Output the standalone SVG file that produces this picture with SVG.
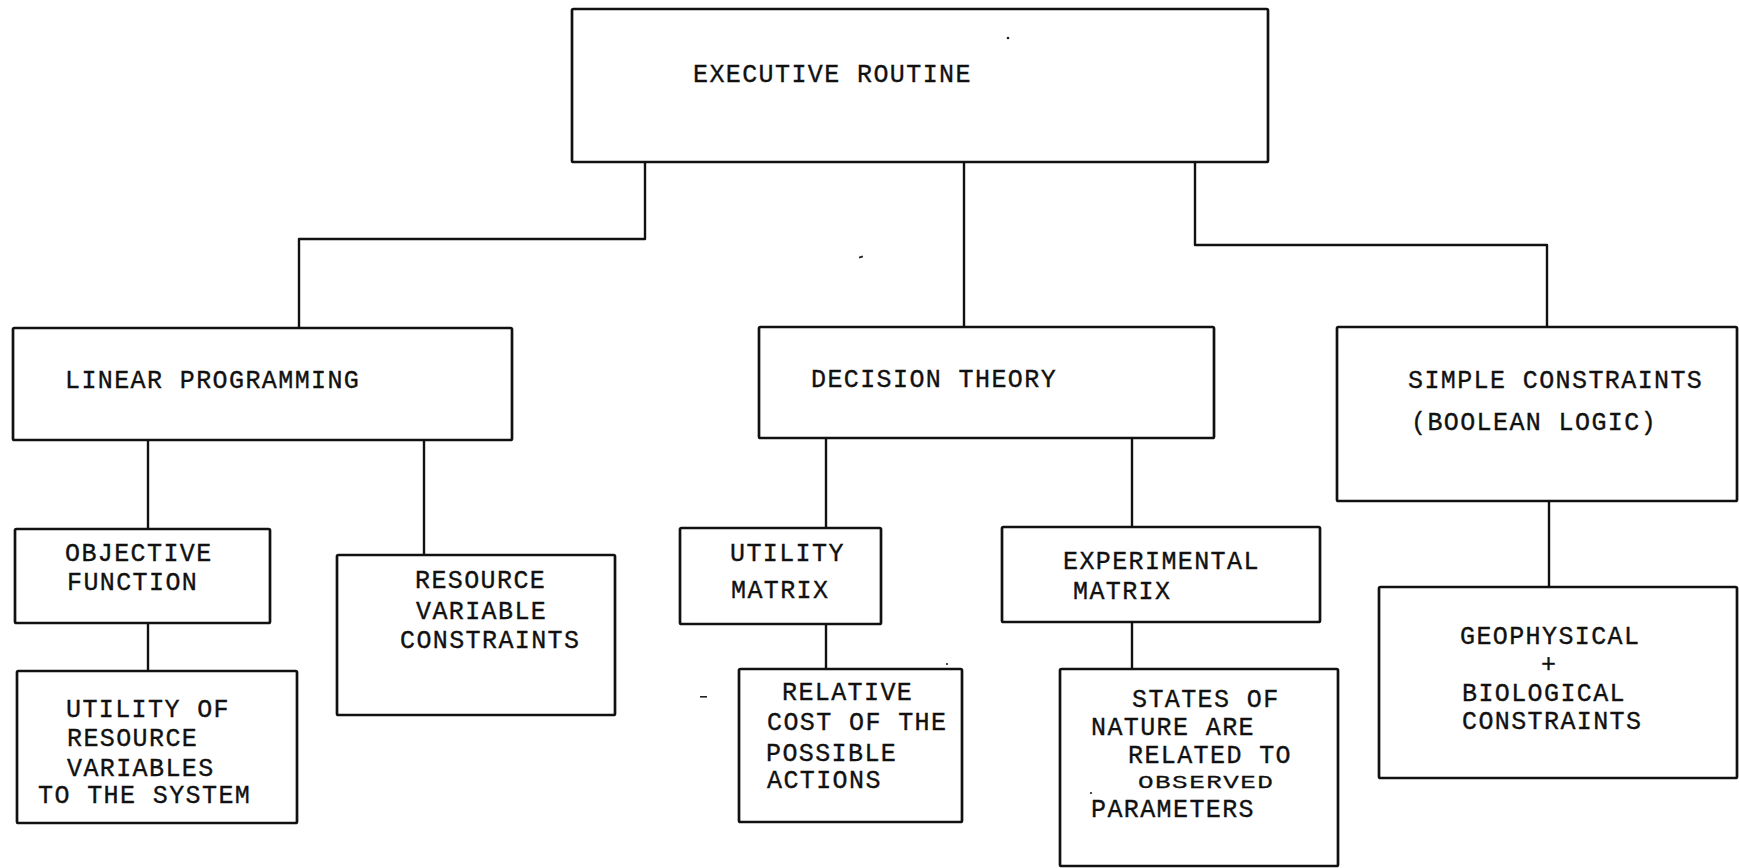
<svg xmlns="http://www.w3.org/2000/svg" width="1739" height="868" viewBox="0 0 1739 868">
  <style>
    .box { fill: #ffffff; stroke: #111111; stroke-width: 2.7; }
    .wire { fill: none; stroke: #111111; stroke-width: 2.4; stroke-linejoin: round; }
    .lbl { font-family: "Liberation Mono", "DejaVu Sans Mono", monospace; font-size: 25px; letter-spacing: 1.4px; fill: #111111; stroke: #111111; stroke-width: 0.35px; }
    .speck { fill: #222222; }
  </style>
  <rect width="1739" height="868" fill="#ffffff"/>

  <!-- tree connectors -->
  <g id="connectors">
    <path class="wire" d="M645,162 V239 H299 V328"/>
    <path class="wire" d="M964,162 V327"/>
    <path class="wire" d="M1195,162 V245 H1547 V327"/>
    <path class="wire" d="M148,440 V529"/>
    <path class="wire" d="M424,440 V555"/>
    <path class="wire" d="M148,623 V671"/>
    <path class="wire" d="M826,438 V528"/>
    <path class="wire" d="M1132,438 V527"/>
    <path class="wire" d="M826,624 V669"/>
    <path class="wire" d="M1132,622 V669"/>
    <path class="wire" d="M1549,501 V587"/>
  </g>

  <g id="executive-routine">
    <rect class="box" x="572" y="9" width="696" height="153" rx="1.5"/>
    <text class="lbl" x="693" y="82">EXECUTIVE ROUTINE</text>
  </g>

  <g id="linear-programming">
    <rect class="box" x="13" y="328" width="499" height="112" rx="1.5"/>
    <text class="lbl" x="65" y="388">LINEAR PROGRAMMING</text>
  </g>

  <g id="decision-theory">
    <rect class="box" x="759" y="327" width="455" height="111" rx="1.5"/>
    <text class="lbl" x="811" y="387">DECISION THEORY</text>
  </g>

  <g id="simple-constraints">
    <rect class="box" x="1337" y="327" width="400" height="174" rx="1.5"/>
    <text class="lbl" x="1408" y="388">SIMPLE CONSTRAINTS</text>
    <text class="lbl" x="1411" y="430">(BOOLEAN LOGIC)</text>
  </g>

  <g id="objective-function">
    <rect class="box" x="15" y="529" width="255" height="94" rx="1.5"/>
    <text class="lbl" x="65" y="561">OBJECTIVE</text>
    <text class="lbl" x="67" y="590">FUNCTION</text>
  </g>

  <g id="utility-of-resources">
    <rect class="box" x="17" y="671" width="280" height="152" rx="1.5"/>
    <text class="lbl" x="66" y="717">UTILITY OF</text>
    <text class="lbl" x="67" y="746">RESOURCE</text>
    <text class="lbl" x="67" y="776">VARIABLES</text>
    <text class="lbl" x="38" y="803">TO THE SYSTEM</text>
  </g>

  <g id="resource-variable-constraints">
    <rect class="box" x="337" y="555" width="278" height="160" rx="1.5"/>
    <text class="lbl" x="415" y="588">RESOURCE</text>
    <text class="lbl" x="416" y="619">VARIABLE</text>
    <text class="lbl" x="400" y="648">CONSTRAINTS</text>
  </g>

  <g id="utility-matrix">
    <rect class="box" x="680" y="528" width="201" height="96" rx="1.5"/>
    <text class="lbl" x="730" y="561">UTILITY</text>
    <text class="lbl" x="731" y="598">MATRIX</text>
  </g>

  <g id="relative-cost">
    <rect class="box" x="739" y="669" width="223" height="153" rx="1.5"/>
    <text class="lbl" x="782" y="700">RELATIVE</text>
    <text class="lbl" x="767" y="730">COST OF THE</text>
    <text class="lbl" x="766" y="761">POSSIBLE</text>
    <text class="lbl" x="767" y="788">ACTIONS</text>
  </g>

  <g id="experimental-matrix">
    <rect class="box" x="1002" y="527" width="318" height="95" rx="1.5"/>
    <text class="lbl" x="1063" y="569">EXPERIMENTAL</text>
    <text class="lbl" x="1073" y="599">MATRIX</text>
  </g>

  <g id="states-of-nature">
    <rect class="box" x="1060" y="669" width="278" height="197" rx="1.5"/>
    <text class="lbl" x="1132" y="707">STATES OF</text>
    <text class="lbl" x="1091" y="735">NATURE ARE</text>
    <text class="lbl" x="1128" y="763">RELATED TO</text>
    <text class="lbl" transform="translate(1138,788) scale(1.04,0.74)" x="0" y="0">OBSERVED</text>
    <text class="lbl" x="1091" y="817">PARAMETERS</text>
  </g>

  <g id="geophysical-biological">
    <rect class="box" x="1379" y="587" width="358" height="191" rx="1.5"/>
    <text class="lbl" x="1460" y="644">GEOPHYSICAL</text>
    <text class="lbl" x="1541" y="672">+</text>
    <text class="lbl" x="1462" y="701">BIOLOGICAL</text>
    <text class="lbl" x="1462" y="729">CONSTRAINTS</text>
  </g>

  <!-- stray ink marks on the sheet -->
  <g id="specks">
    <circle class="speck" cx="1008" cy="38" r="1.3"/>
    <rect class="speck" x="859" y="256" width="4" height="2" transform="rotate(-20 861 257)"/>
    <rect class="speck" x="700" y="696" width="7" height="1.6"/>
    <circle class="speck" cx="947" cy="664" r="1.1"/>
    <circle class="speck" cx="1091" cy="793" r="1.1"/>
  </g>
</svg>
